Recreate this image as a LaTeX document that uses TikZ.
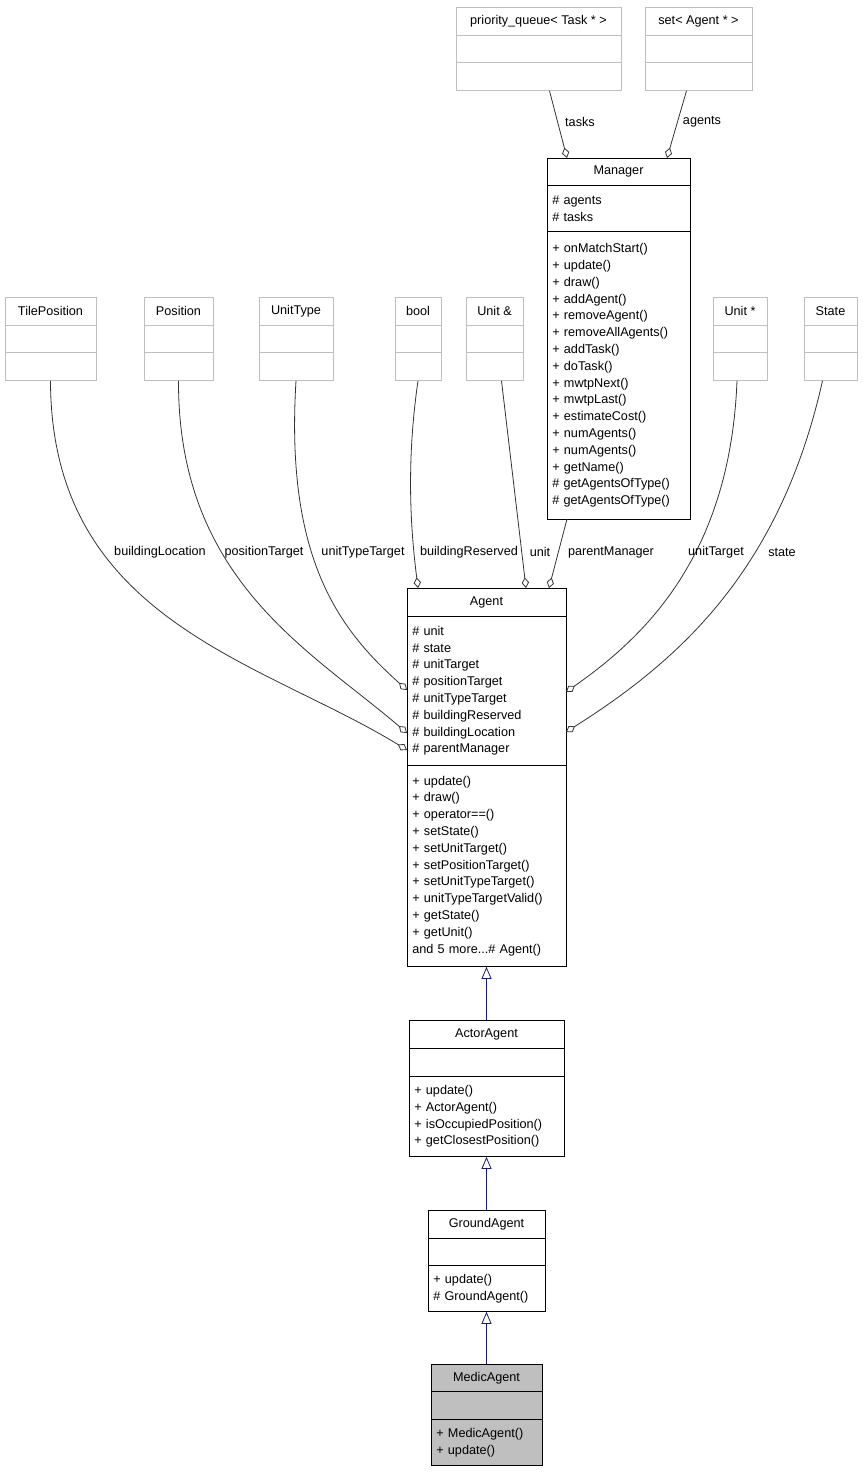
\documentclass[tikz,border=0pt]{standalone}
\usepackage{fontspec}
\setmainfont{Liberation Sans}
\usetikzlibrary{arrows.meta}
\newcommand\px{*0.75pt}
\definecolor{boxgray}{HTML}{BFBFBF}
\definecolor{inhblue}{HTML}{191970}
\tikzset{
  part/.style={draw, line width=0.6pt, anchor=north, inner sep=0pt, font=\fontsize{9.5}{12.6}\selectfont},
  ttl/.style={part, align=center},
  lst/.style={part, align=left, inner xsep=4pt},
  ext/.style={draw=boxgray},
  agg/.style={draw=black!80, line width=0.6pt, -{Diamond[open,length=8pt,width=5.5pt]}},
  inh/.style={draw=inhblue, line width=0.6pt, -{Triangle[open,length=9pt,width=7.5pt]}},
  lbl/.style={font=\fontsize{9.5}{11}\selectfont, inner sep=1pt}
}
\begin{document}
\begin{tikzpicture}[x=0.75pt,y=-0.75pt]
\useasboundingbox (0,0) rectangle (863,1472);
% external classes
\node[ttl,ext,minimum width=165\px,minimum height=28\px] (pq) at (538.5,7) {priority\_queue< Task * >};
\node[part,ext,minimum width=165\px,minimum height=27\px] (pqa) at (538.5,35) {};
\node[part,ext,minimum width=165\px,minimum height=28\px] (pqm) at (538.5,62) {};
\node[ttl,ext,minimum width=107\px,minimum height=28\px] (set) at (698.5,7) {set< Agent * >};
\node[part,ext,minimum width=107\px,minimum height=27\px] (seta) at (698.5,35) {};
\node[part,ext,minimum width=107\px,minimum height=28\px] (setm) at (698.5,62) {};
\node[ttl,ext,minimum width=91\px,minimum height=28\px] (tile) at (50.5,297) {TilePosition};
\node[part,ext,minimum width=91\px,minimum height=27\px] (tilea) at (50.5,325) {};
\node[part,ext,minimum width=91\px,minimum height=28\px] (tilem) at (50.5,352) {};
\node[ttl,ext,minimum width=69\px,minimum height=28\px] (pos) at (178.5,297) {Position};
\node[part,ext,minimum width=69\px,minimum height=27\px] (posa) at (178.5,325) {};
\node[part,ext,minimum width=69\px,minimum height=28\px] (posm) at (178.5,352) {};
\node[ttl,ext,minimum width=74\px,minimum height=28\px] (utype) at (296,297) {UnitType};
\node[part,ext,minimum width=74\px,minimum height=27\px] (utypea) at (296,325) {};
\node[part,ext,minimum width=74\px,minimum height=28\px] (utypem) at (296,352) {};
\node[ttl,ext,minimum width=46\px,minimum height=28\px] (bool) at (418,297) {bool};
\node[part,ext,minimum width=46\px,minimum height=27\px] (boola) at (418,325) {};
\node[part,ext,minimum width=46\px,minimum height=28\px] (boolm) at (418,352) {};
\node[ttl,ext,minimum width=57\px,minimum height=28\px] (uref) at (494.5,297) {Unit \&};
\node[part,ext,minimum width=57\px,minimum height=27\px] (urefa) at (494.5,325) {};
\node[part,ext,minimum width=57\px,minimum height=28\px] (urefm) at (494.5,352) {};
\node[ttl,ext,minimum width=54\px,minimum height=28\px] (uptr) at (740,297) {Unit *};
\node[part,ext,minimum width=54\px,minimum height=27\px] (uptra) at (740,325) {};
\node[part,ext,minimum width=54\px,minimum height=28\px] (uptrm) at (740,352) {};
\node[ttl,ext,minimum width=53\px,minimum height=28\px] (state) at (830.5,297) {State};
\node[part,ext,minimum width=53\px,minimum height=27\px] (statea) at (830.5,325) {};
\node[part,ext,minimum width=53\px,minimum height=28\px] (statem) at (830.5,352) {};
% Manager
\node[ttl,minimum width=143\px,minimum height=27\px] (mgr) at (618.5,158) {Manager};
\node[lst,text width=143\px-8pt,minimum height=46\px] (mgra) at (618.5,185) {\# agents\\\# tasks};
\node[lst,text width=143\px-8pt,minimum height=288\px] (mgrm) at (618.5,231) {+ onMatchStart()\\+ update()\\+ draw()\\+ addAgent()\\+ removeAgent()\\+ removeAllAgents()\\+ addTask()\\+ doTask()\\+ mwtpNext()\\+ mwtpLast()\\+ estimateCost()\\+ numAgents()\\+ numAgents()\\+ getName()\\\# getAgentsOfType()\\\# getAgentsOfType()};
% Agent
\node[ttl,minimum width=159\px,minimum height=28\px] (agent) at (486.5,588) {Agent};
\node[lst,text width=159\px-8pt,minimum height=149\px] (agenta) at (486.5,616) {\# unit\\\# state\\\# unitTarget\\\# positionTarget\\\# unitTypeTarget\\\# buildingReserved\\\# buildingLocation\\\# parentManager};
\node[lst,text width=159\px-8pt,minimum height=201\px] (agentm) at (486.5,765) {+ update()\\+ draw()\\+ operator==()\\+ setState()\\+ setUnitTarget()\\+ setPositionTarget()\\+ setUnitTypeTarget()\\+ unitTypeTargetValid()\\+ getState()\\+ getUnit()\\and 5 more...\# Agent()};
% ActorAgent
\node[ttl,minimum width=155\px,minimum height=28\px] (actor) at (486.5,1020) {ActorAgent};
\node[part,minimum width=155\px,minimum height=28\px] (actora) at (486.5,1048) {};
\node[lst,text width=155\px-8pt,minimum height=80\px] (actorm) at (486.5,1076) {+ update()\\+ ActorAgent()\\+ isOccupiedPosition()\\+ getClosestPosition()};
% GroundAgent
\node[ttl,minimum width=117\px,minimum height=28\px] (ground) at (486.5,1210) {GroundAgent};
\node[part,minimum width=117\px,minimum height=27\px] (grounda) at (486.5,1238) {};
\node[lst,text width=117\px-8pt,minimum height=46\px] (groundm) at (486.5,1265) {+ update()\\\# GroundAgent()};
% MedicAgent
\node[ttl,fill=boxgray,minimum width=111\px,minimum height=27\px] (medic) at (486.5,1364) {MedicAgent};
\node[part,fill=boxgray,minimum width=111\px,minimum height=28\px] (medica) at (486.5,1391) {};
\node[lst,fill=boxgray,text width=111\px-8pt,minimum height=46\px] (medicm) at (486.5,1419) {+ MedicAgent()\\+ update()};
% connector ends
\coordinate (mgrin1) at (567,158);
\coordinate (mgrin2) at (667,158);
\coordinate (mgrout) at (567,519);
\coordinate (ain1) at (407,750);
\coordinate (ain2) at (407,733);
\coordinate (ain3) at (407,690);
\coordinate (ain4) at (418,588);
\coordinate (ain5) at (526,588);
\coordinate (ain6) at (549,588);
\coordinate (ain7) at (566,692);
\coordinate (ain8) at (566,732);
% aggregations
\draw[agg] (pqm.south) ++(11,0) coordinate (pqout) -- (mgrin1);
\draw[agg] (setm.south) ++(-12,0) coordinate (setout) -- (mgrin2);
\draw[agg] (tilem.south) .. controls (51,620) and (260,660) .. (ain1);
\draw[agg] (posm.south) .. controls (178,580) and (310,650) .. (ain2);
\draw[agg] (utypem.south) .. controls (285,560) and (340,630) .. (ain3);
\draw[agg] (boolm.south) .. controls (405,470) and (412,540) .. (ain4);
\draw[agg] (urefm.south) ++(7,0) coordinate (urefout) -- (ain5);
\draw[agg] (mgrout) -- (ain6);
\draw[agg] (uptrm.south) ++(-3,0) coordinate (uptrout) .. controls (730,560) and (640,640) .. (ain7);
\draw[agg] (statem.south) ++(-8,0) coordinate (stateout) .. controls (780,570) and (680,660) .. (ain8);
% labels
\node[lbl] (ltasks) at (580,122) {tasks};
\node[lbl] (lagents) at (702,122) {agents};
\node[lbl] (lbloc) at (160,552) {buildingLocation};
\node[lbl] (lpos) at (264,552) {positionTarget};
\node[lbl] (lutype) at (363,552) {unitTypeTarget};
\node[lbl] (lbres) at (469,552) {buildingReserved};
\node[lbl] (lunit) at (540,552) {unit};
\node[lbl] (lmgr) at (611,552) {parentManager};
\node[lbl] (lutgt) at (716,552) {unitTarget};
\node[lbl] (lstate) at (782,552) {state};
% inheritance
\draw[inh] (actor.north) -- (agentm.south);
\draw[inh] (ground.north) -- (actorm.south);
\draw[inh] (medic.north) -- (groundm.south);
\end{tikzpicture}
\end{document}
